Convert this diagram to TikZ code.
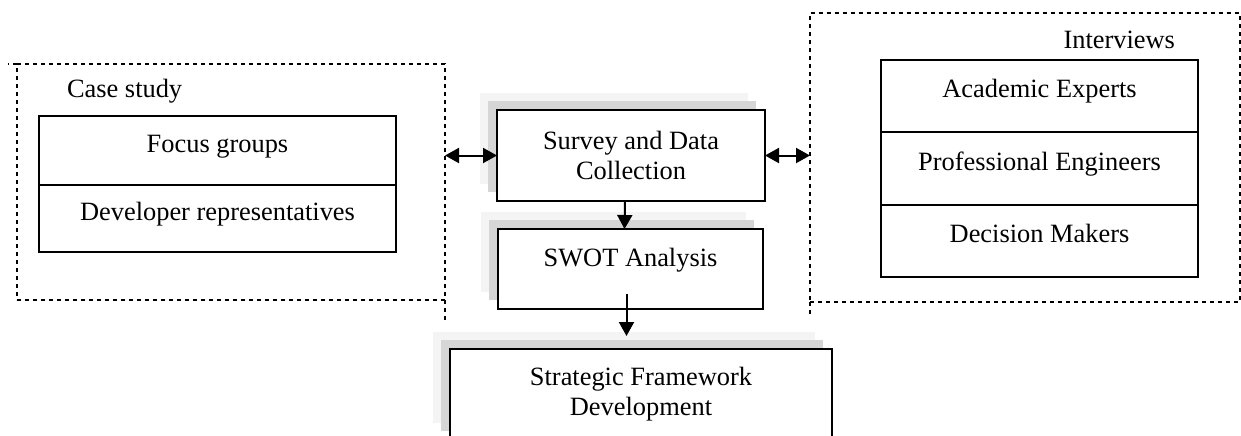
\documentclass[tikz,border=0pt]{standalone}
\usepackage{fontspec}
\setmainfont{Liberation Serif}
\usetikzlibrary{arrows.meta,positioning}

\tikzset{
  frame/.style={draw,dash pattern=on 2pt off 2pt,line width=0.6pt,inner sep=0pt,outer sep=0pt},
  cell/.style={draw,line width=0.75pt,inner sep=0pt,outer sep=0pt,
    font=\fontsize{13.2}{15}\selectfont,text height=9pt,text depth=7.5pt},
  shadowed/.style={
    preaction={fill=gray!9,draw=none,transform canvas={shift={(-8.5pt,8.5pt)}}},
    preaction={fill=gray!32,draw=none,transform canvas={shift={(-4.5pt,4.5pt)}}}},
  stage/.style={draw,fill=white,line width=0.75pt,inner sep=0pt,outer sep=0pt,
    align=center,font=\fontsize{13.2}{15}\selectfont,shadowed},
  flow/.style={line width=1pt,-{Triangle[length=7pt,width=7.5pt]}},
  both/.style={line width=1pt,{Triangle[length=7pt,width=7.5pt]}-{Triangle[length=7pt,width=7.5pt]}}
}

\begin{document}
\begin{tikzpicture}[x=0.5pt,y=-0.5pt]
\useasboundingbox (0,0) rectangle (1241,435);
\clip (0,0) rectangle (1241,435);

% outer dashed frames
\node[frame,minimum width=214pt,minimum height=118pt] (caseframe) at (231,182) {};
\node[frame,minimum width=215pt,minimum height=144.5pt] (intframe) at (1025,157.5) {};
\draw[frame] (caseframe.south east) -- ++(0,20);
\draw[frame] (caseframe.north west) -- ++(-9,0);
\draw[frame] (intframe.south west) -- ++(0,13);

\node[anchor=base west,font=\fontsize{13.2}{15}\selectfont] (caselbl) at (60,97) {Case study};
\node[anchor=base east,font=\fontsize{13.2}{15}\selectfont] (intlbl) at (1182,48) {Interviews};

% case study cells
\node[cell,minimum width=178.5pt,minimum height=34.5pt] (focus) at (217.5,150.5) {Focus groups};
\node[cell,minimum width=178.5pt,minimum height=33.5pt,below=0pt of focus] (devrep) {Developer representatives};

% interview cells
\node[cell,minimum width=158.5pt,minimum height=36pt] (academic) at (1039.5,96) {Academic Experts};
\node[cell,minimum width=158.5pt,minimum height=36.5pt,below=0pt of academic] (profeng) {Professional Engineers};
\node[cell,minimum width=158.5pt,minimum height=36pt,below=0pt of profeng] (decision) {Decision Makers};

% main stages
\node[stage,minimum width=134pt,minimum height=45.5pt] (survey) at (631,155.5) {Survey and Data\\Collection};
\node[stage,minimum width=132.5pt,minimum height=40pt,text depth=12pt] (swot) at (630.5,269) {SWOT Analysis};
\node[stage,minimum width=191pt,minimum height=45.5pt] (strategic) at (641,394.5) {Strategic Framework\\Development};

% connectors
\draw[both] (caseframe.east |- survey.west) -- (survey.west);
\draw[both] (survey.east) -- (intframe.west |- survey.east);
\draw[flow] ([xshift=-3pt]survey.south) -- ([xshift=-3pt]swot.north);
\coordinate (swotout) at ([yshift=7.5pt,xshift=-2pt]swot.south);
\draw[flow] (swotout) -- ([yshift=6.5pt]swotout |- strategic.north);

\end{tikzpicture}
\end{document}
